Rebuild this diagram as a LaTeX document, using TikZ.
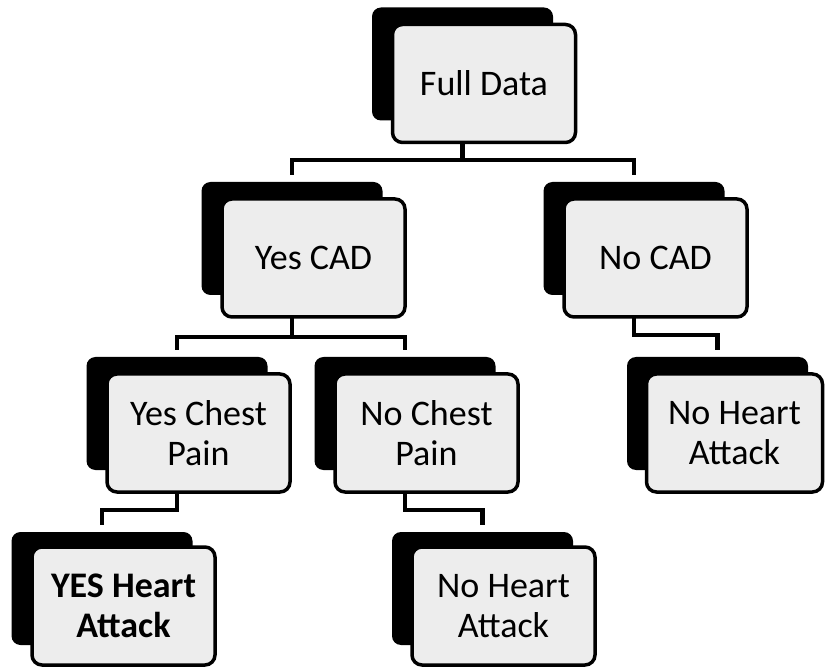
\documentclass[tikz,border=0pt]{standalone}
\usepackage{fontspec}
\setmainfont{Carlito}
\begin{document}
\begin{tikzpicture}[x=1pt,y=-1pt,
  shadowbox/.style={fill=black, rounded corners=9pt, minimum width=181pt, minimum height=113pt, inner sep=0pt, outer sep=0pt},
  frontbox/.style={draw=black, line width=3.5pt, fill=black!7, rounded corners=10pt, minimum width=183pt, minimum height=118pt, align=center, inner sep=0pt, outer sep=0pt, font=\fontsize{36}{40}\selectfont},
  conn/.style={draw=black, line width=4.5pt}]
\useasboundingbox (0,0) rectangle (825,668);
% shadows
\node[shadowbox] (fdS) at (462.5,64) {};
\node[shadowbox] (ycS) at (292,238.5) {};
\node[shadowbox] (ncS) at (634,238.5) {};
\node[shadowbox] (ycpS) at (177,413.5) {};
\node[shadowbox] (ncpS) at (405,413.5) {};
\node[shadowbox] (nhaAS) at (717.5,413.5) {};
\node[shadowbox] (yhaS) at (102,588.5) {};
\node[shadowbox] (nhaBS) at (482.5,588.5) {};
% front boxes
\node[frontbox] (fd) at (484,83.5) {Full Data};
\node[frontbox] (yc) at (313.5,258) {Yes CAD};
\node[frontbox] (nc) at (655.5,258) {No CAD};
\node[frontbox] (ycp) at (198.5,433) {Yes Chest\\Pain};
\node[frontbox] (ncp) at (426.5,433) {No Chest\\Pain};
\node[frontbox, minimum width=176pt] (nhaA) at (734.5,433) {No Heart\\Attack};
\node[frontbox] (yha) at (123.5,606) {\textbf{YES Heart}\\\textbf{Attack}};
\node[frontbox] (nhaB) at (503.5,606) {No Heart\\Attack};
% bus levels
\coordinate (b1) at (0,160);
\coordinate (b2) at (0,337);
\coordinate (b3) at (0,335);
\coordinate (b4) at (0,510);
\coordinate (b5) at (0,510);
% connectors
\draw[conn] (fd.south -| fdS.center) -- (b1 -| fdS.center);
\draw[conn] ([yshift=7pt]ycS.north) |- (b1 -| ncS.north) -- ([yshift=7pt]ncS.north);
\draw[conn] (yc.south -| ycS.center) -- (b2 -| ycS.center);
\draw[conn] ([yshift=7pt]ycpS.north) |- (b2 -| ncpS.north) -- ([yshift=7pt]ncpS.north);
\draw[conn] (nc.south -| ncS.center) |- (b3 -| nhaAS.north) -- ([yshift=7pt]nhaAS.north);
\draw[conn] (ycp.south -| ycpS.center) |- (b4 -| yhaS.north) -- ([yshift=7pt]yhaS.north);
\draw[conn] (ncp.south -| ncpS.center) |- (b5 -| nhaBS.north) -- ([yshift=7pt]nhaBS.north);
\end{tikzpicture}
\end{document}
